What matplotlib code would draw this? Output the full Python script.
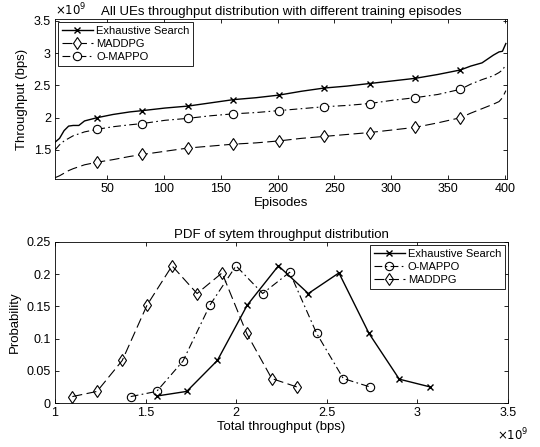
import numpy as np
import matplotlib.pyplot as plt

plt.rcParams['font.family'] = ['Liberation Sans', 'DejaVu Sans']

# top panel: sorted throughput per episode (x1e9 bps)
episodes = [4, 8, 12, 16, 20, 25, 30, 41, 55, 70, 81, 101, 121, 141, 161, 181, 201, 221, 241,
            261, 281, 301, 321, 341, 361, 370, 380, 390, 395, 398, 401]
es_thr = [1.62, 1.68, 1.80, 1.87, 1.88, 1.88, 1.95, 2.00, 2.05, 2.09, 2.11, 2.15, 2.18, 2.23, 2.28,
          2.31, 2.35, 2.41, 2.46, 2.49, 2.53, 2.57, 2.61, 2.67, 2.74, 2.80, 2.85, 2.97, 3.02, 3.03, 3.15]
mappo_thr = [1.50, 1.58, 1.64, 1.68, 1.72, 1.75, 1.78, 1.82, 1.86, 1.89, 1.91, 1.96, 1.99, 2.03, 2.06,
             2.08, 2.11, 2.14, 2.17, 2.19, 2.22, 2.27, 2.31, 2.36, 2.44, 2.52, 2.59, 2.65, 2.70, 2.74, 2.82]
maddpg_thr = [1.07, 1.10, 1.14, 1.18, 1.21, 1.24, 1.27, 1.31, 1.35, 1.40, 1.43, 1.48, 1.53, 1.56, 1.59,
              1.61, 1.64, 1.68, 1.71, 1.74, 1.77, 1.81, 1.85, 1.92, 2.00, 2.07, 2.14, 2.21, 2.25, 2.31, 2.42]
mark_idx = [7, 10, 12, 14, 16, 18, 20, 22, 24]

# bottom panel: PDF of system throughput (x1e9 bps)
es_x = [1.565, 1.727, 1.896, 2.061, 2.233, 2.398, 2.567, 2.733, 2.900, 3.070]
es_p = [0.011, 0.018, 0.066, 0.152, 0.213, 0.170, 0.202, 0.108, 0.037, 0.025]
mappo_x = [1.418, 1.561, 1.706, 1.855, 1.999, 2.146, 2.295, 2.444, 2.591, 2.738]
mappo_p = [0.010, 0.018, 0.065, 0.152, 0.213, 0.170, 0.203, 0.108, 0.038, 0.025]
maddpg_x = [1.096, 1.232, 1.371, 1.508, 1.646, 1.784, 1.922, 2.058, 2.196, 2.334]
maddpg_p = [0.010, 0.018, 0.066, 0.152, 0.213, 0.170, 0.202, 0.108, 0.038, 0.025]

fig = plt.figure(figsize=(5.4, 4.47), dpi=100)
ax1 = fig.add_axes([55/540, 1-179/447, 452/540, 160/447])
ax2 = fig.add_axes([55/540, 1-403/447, 453/540, 161/447])

dash = (0, (9, 4))
dashdot = (0, (7, 3, 1.5, 3))

ax1.plot(episodes, es_thr, color='k', lw=1.0, marker='x', ms=5, mew=1.0,
         markevery=mark_idx, label='Exhaustive Search')
ax1.plot(episodes, maddpg_thr, color='k', lw=0.8, ls=dash, marker='d', ms=6.5,
         mfc='white', mew=0.8, markevery=mark_idx, label='MADDPG')
ax1.plot(episodes, mappo_thr, color='k', lw=0.8, ls=dashdot, marker='o', ms=6,
         mfc='white', mew=0.8, markevery=mark_idx, label='O-MAPPO')
ax1.set_xlim(4, 402)
ax1.set_ylim(1.05, 3.53)
ax1.set_xticks([50, 100, 150, 200, 250, 300, 350, 400])
ax1.set_yticks([1.5, 2, 2.5, 3, 3.5])
ax1.set_yticklabels(['1.5', '2', '2.5', '3', '3.5'])
ax1.set_xlabel('Episodes', fontsize=9.5, labelpad=1)
ax1.set_ylabel('Throughput (bps)', fontsize=9.5)
ax1.set_title('All UEs throughput distribution with different training episodes', fontsize=9.5, pad=3)
ax1.text(0, 1.005, r'$\times10^9$', transform=ax1.transAxes, fontsize=8.5, ha='left', va='bottom')
ax1.legend(loc='upper left', fontsize=8, frameon=True, fancybox=False, edgecolor='k',
           framealpha=1, borderpad=0.3, labelspacing=0.3, handlelength=2.8,
           handletextpad=0.3, borderaxespad=0.3).get_frame().set_linewidth(0.6)

ax2.plot(es_x, es_p, color='k', lw=1.0, marker='x', ms=5, mew=1.0, label='Exhaustive Search')
ax2.plot(mappo_x, mappo_p, color='k', lw=0.8, ls=dashdot, marker='o', ms=6,
         mfc='none', mew=0.8, label='O-MAPPO')
ax2.plot(maddpg_x, maddpg_p, color='k', lw=0.8, ls=dash, marker='d', ms=6.5,
         mfc='none', mew=0.8, label='MADDPG')
ax2.set_xlim(1, 3.5)
ax2.set_ylim(0, 0.25)
ax2.set_xticks([1, 1.5, 2, 2.5, 3, 3.5])
ax2.set_xticklabels(['1', '1.5', '2', '2.5', '3', '3.5'])
ax2.set_yticks([0, 0.05, 0.1, 0.15, 0.2, 0.25])
ax2.set_yticklabels(['0', '0.05', '0.1', '0.15', '0.2', '0.25'])
ax2.set_xlabel('Total throughput (bps)', fontsize=9.5, labelpad=1)
ax2.set_ylabel('Probability', fontsize=9.5)
ax2.set_title('PDF of sytem throughput distribution', fontsize=9.5, pad=3)
ax2.text(1.045, -0.15, r'$\times10^9$', transform=ax2.transAxes, fontsize=8.5, ha='right', va='top')
ax2.legend(loc='upper right', fontsize=8, frameon=True, fancybox=False, edgecolor='k',
           framealpha=1, borderpad=0.3, labelspacing=0.3, handlelength=2.8,
           handletextpad=0.3, borderaxespad=0.3).get_frame().set_linewidth(0.6)

for ax in (ax1, ax2):
    ax.tick_params(direction='in', top=True, right=True, labelsize=9, length=3, width=0.6, pad=3)
    for s in ax.spines.values():
        s.set_linewidth(0.6)

fig.savefig('out.png', dpi=100)
